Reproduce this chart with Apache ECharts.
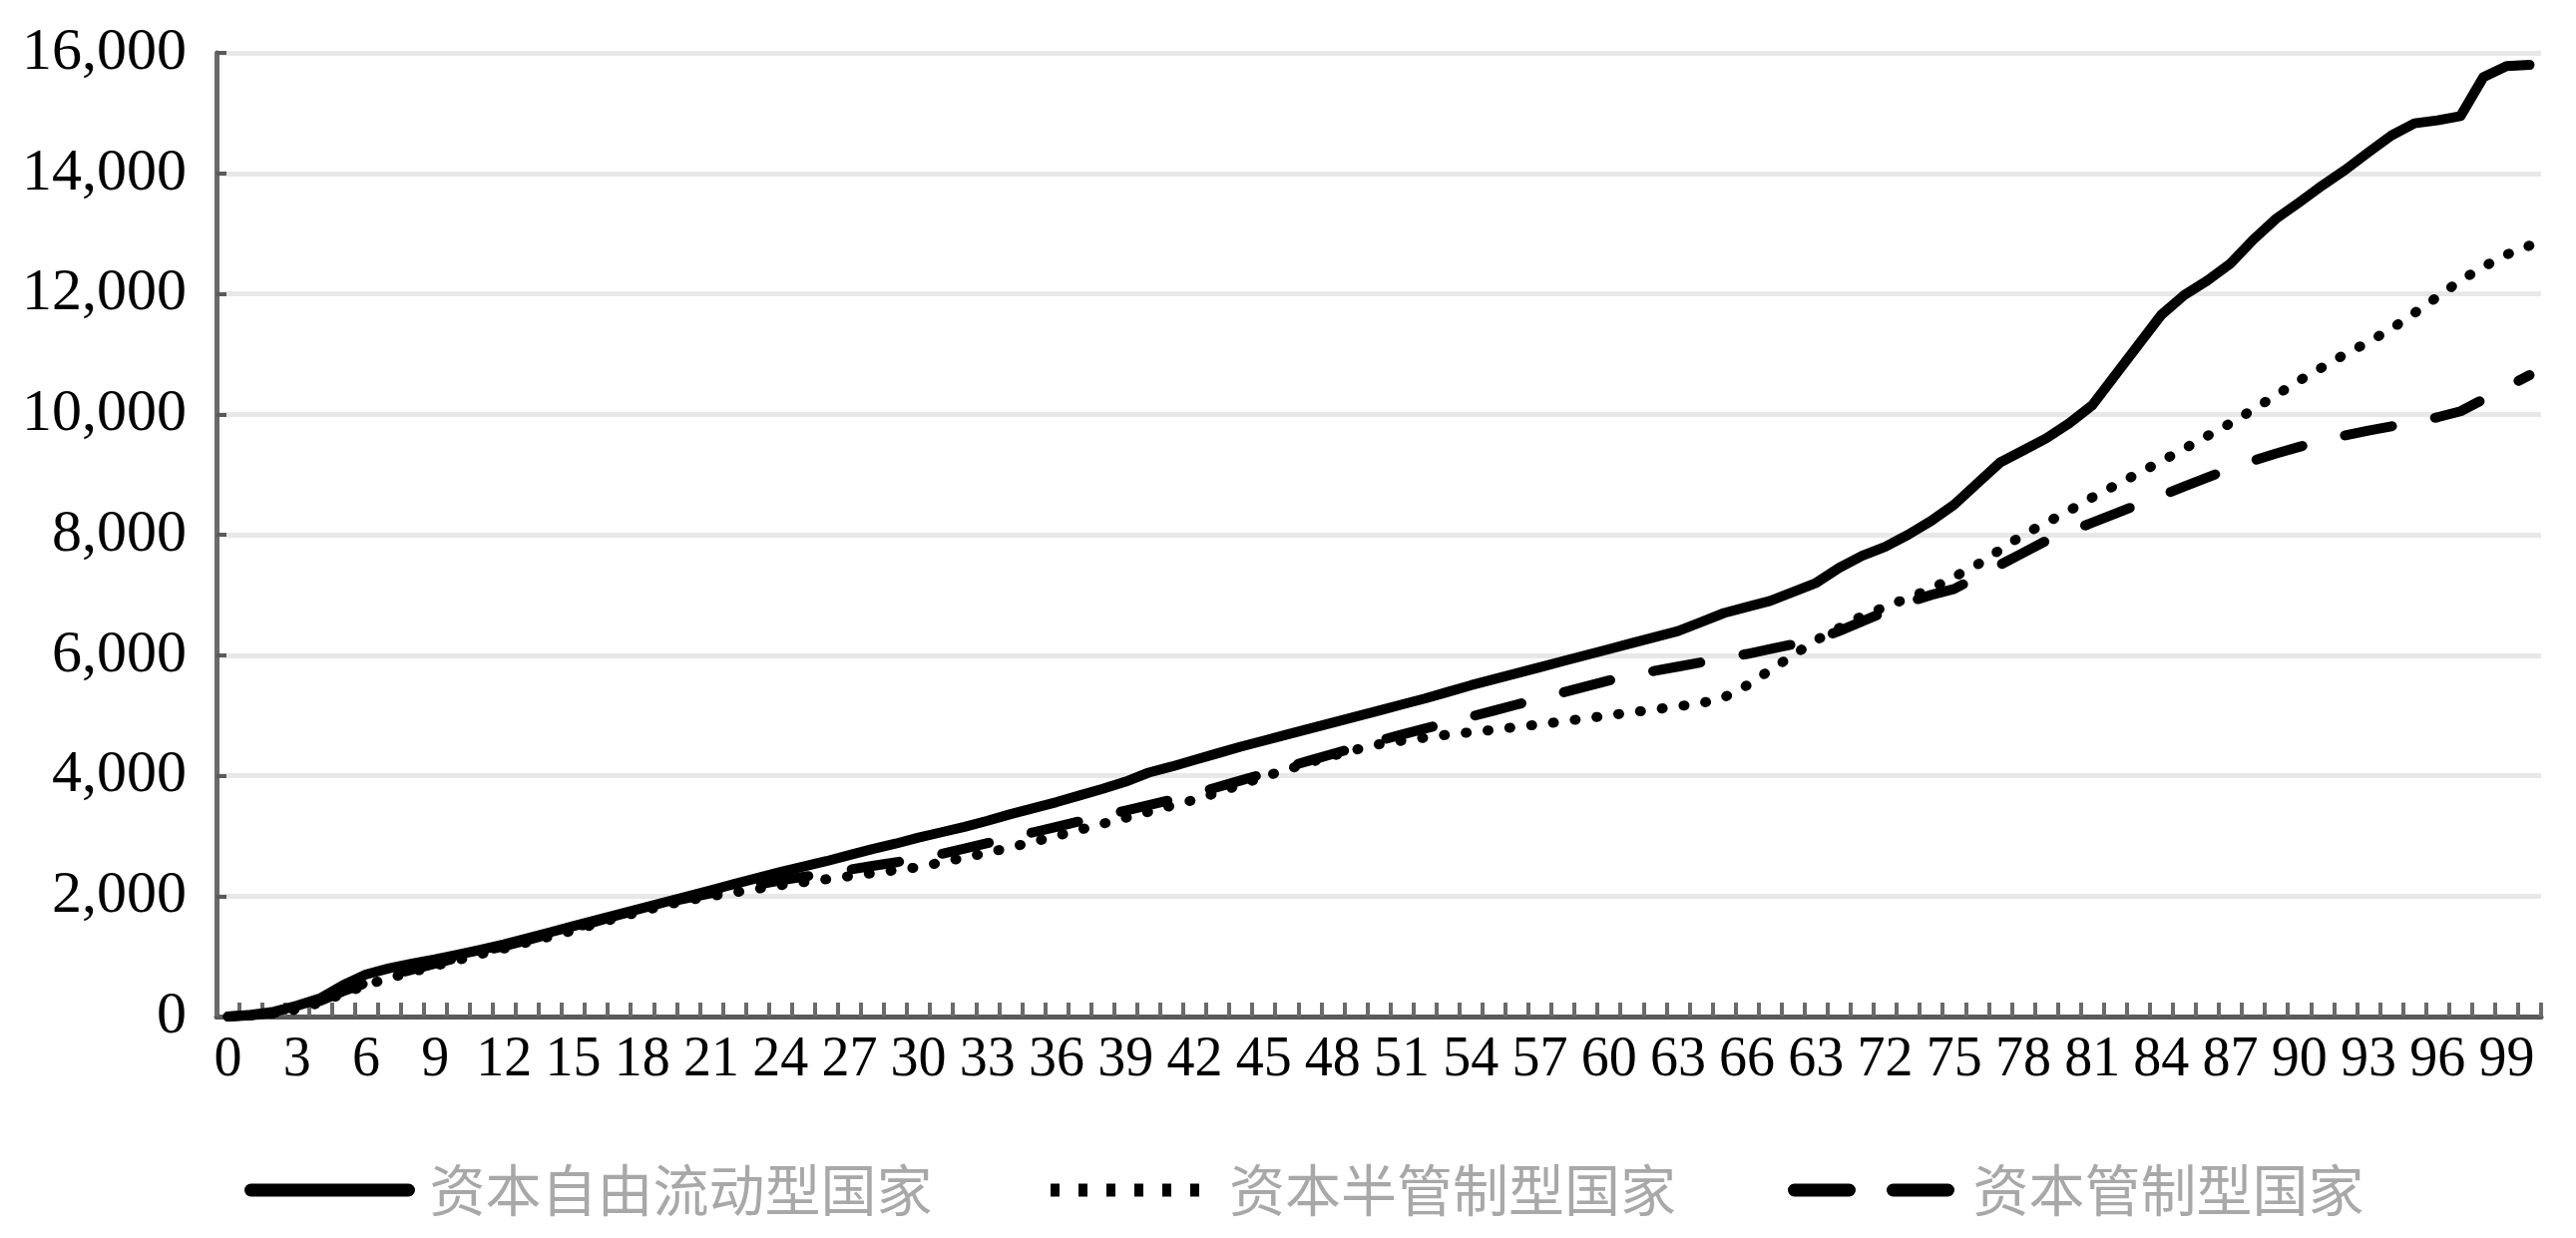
<!DOCTYPE html>
<html>
<head>
<meta charset="utf-8">
<script src="https://cdn.jsdelivr.net/npm/echarts@6/dist/echarts.min.js"></script>
<style>
html,body{margin:0;padding:0;background:#fff;}
#chart{width:2582px;height:1241px;}
</style>
</head>
<body>
<div id="chart"></div>
<script>
// x categories (the source figure prints "63" at position 69)
const categories = ['0','1','2','3','4','5','6','7','8','9','10','11','12','13','14','15','16','17','18','19','20',
'21','22','23','24','25','26','27','28','29','30','31','32','33','34','35','36','37','38','39','40',
'41','42','43','44','45','46','47','48','49','50','51','52','53','54','55','56','57','58','59','60',
'61','62','63','64','65','66','67','68','63','70','71','72','73','74','75','76','77','78','79','80',
'81','82','83','84','85','86','87','88','89','90','91','92','93','94','95','96','97','98','99','100'];

const seriesNames = ['资本自由流动型国家', '资本半管制型国家', '资本管制型国家'];

// 资本自由流动型国家 (solid)
const freeFlow = [0,30,80,180,300,520,700,800,880,950,1030,1110,1200,1300,1400,1500,1600,1700,1800,1900,2000,
2100,2200,2300,2400,2490,2580,2680,2780,2870,2970,3060,3150,3250,3360,3460,3560,3670,3780,3900,4050,
4150,4260,4370,4480,4580,4680,4780,4880,4980,5080,5180,5280,5390,5500,5600,5700,5800,5900,6000,6100,
6200,6300,6400,6550,6700,6800,6900,7050,7200,7450,7650,7800,8000,8230,8500,8850,9200,9400,9600,9850,
10150,10650,11150,11650,11980,12220,12500,12900,13250,13520,13800,14060,14350,14630,14830,14880,14950,15600,15780,15800];

// 资本半管制型国家 (dotted)
const semiControl = [0,20,50,120,230,380,520,640,740,840,940,1040,1130,1230,1330,1430,1540,1650,1750,1850,1930,
2000,2060,2120,2180,2230,2280,2330,2380,2430,2480,2560,2640,2720,2810,2900,3000,3100,3200,3300,3400,
3500,3600,3720,3850,3980,4100,4220,4330,4430,4520,4580,4630,4680,4720,4760,4810,4850,4900,4950,5000,
5050,5100,5150,5200,5300,5500,5750,6000,6250,6450,6650,6800,6950,7100,7300,7500,7750,8000,8200,8400,
8620,8820,9020,9220,9430,9640,9850,10080,10320,10560,10780,11000,11200,11420,11680,11950,12220,12450,12650,12800];

// 资本管制型国家 (dashed)
const control = [0,20,60,140,260,420,560,680,780,880,980,1080,1170,1270,1370,1470,1580,1690,1790,1890,1970,
2050,2120,2190,2260,2320,2380,2440,2500,2560,2620,2700,2790,2880,2970,3060,3150,3240,3330,3420,3510,
3600,3700,3810,3920,4030,4140,4250,4360,4470,4580,4680,4780,4880,4980,5080,5180,5280,5380,5480,5580,
5660,5740,5810,5880,5950,6020,6100,6180,6260,6400,6560,6720,6880,7000,7100,7300,7500,7700,7900,8050,
8200,8350,8500,8650,8800,8950,9100,9230,9350,9460,9560,9650,9730,9800,9870,9950,10050,10250,10450,10650];

const yMin = 0, yMax = 16000, yStep = 2000;

const chart = echarts.init(document.getElementById('chart'), null, {renderer: 'canvas'});

const serifFont = '"Liberation Serif", "Times New Roman", serif';
const hiddenSymbol = {opacity: 0, borderWidth: 0};

chart.setOption({
  animation: false,
  backgroundColor: '#ffffff',
  grid: {left: 217, right: 35, top: 53, bottom: 222, containLabel: false},
  legend: {
    left: 240,
    top: 1160,
    itemWidth: 158,
    itemHeight: 14,
    itemGap: 112,
    textStyle: {
      fontFamily: '"Noto Sans CJK SC", sans-serif',
      fontSize: 56,
      color: '#a8a8a8',
      padding: [0, 0, 0, 16]
    },
    data: [
      {name: seriesNames[0], itemStyle: hiddenSymbol, lineStyle: {color: '#000', width: 13, type: 'solid', cap: 'round'}},
      {name: seriesNames[1], itemStyle: hiddenSymbol, lineStyle: {color: '#000', width: 13, type: [9, 19], cap: 'butt'}},
      {name: seriesNames[2], itemStyle: hiddenSymbol, lineStyle: {color: '#000', width: 13, type: [55, 44], cap: 'round'}}
    ]
  },
  xAxis: {
    type: 'category',
    data: categories,
    boundaryGap: true,
    axisLine: {show: true, lineStyle: {color: '#5a5a5a', width: 5}},
    axisTick: {show: true, inside: true, length: 14, interval: 0, lineStyle: {color: '#6a6a6a', width: 4}},
    axisLabel: {
      interval: 2,
      margin: 16,
      fontFamily: serifFont,
      fontSize: 56,
      color: '#000'
    },
    splitLine: {show: false}
  },
  yAxis: {
    type: 'value',
    min: yMin,
    max: yMax,
    interval: yStep,
    axisLine: {show: true, lineStyle: {color: '#6a6a6a', width: 5}},
    axisTick: {show: true, inside: true, length: 10, lineStyle: {color: '#5a5a5a', width: 4}},
    axisLabel: {
      margin: 30,
      fontFamily: serifFont,
      fontSize: 60,
      color: '#000',
      formatter: v => v.toLocaleString('en-US')
    },
    splitLine: {show: true, lineStyle: {color: '#e8e8e8', width: 5}}
  },
  series: [
    {
      name: seriesNames[0], type: 'line', data: freeFlow, symbol: 'none', smooth: false,
      itemStyle: {color: '#000'},
      lineStyle: {color: '#000', width: 10, cap: 'round', join: 'round'}, z: 4
    },
    {
      name: seriesNames[1], type: 'line', data: semiControl, symbol: 'none', smooth: false,
      itemStyle: {color: '#000'},
      lineStyle: {color: '#000', width: 10, type: [1, 21], cap: 'round'}, z: 2
    },
    {
      name: seriesNames[2], type: 'line', data: control, symbol: 'none', smooth: false,
      itemStyle: {color: '#000'},
      lineStyle: {color: '#000', width: 10, type: [48, 44], cap: 'round'}, z: 3
    }
  ]
});
</script>
</body>
</html>
